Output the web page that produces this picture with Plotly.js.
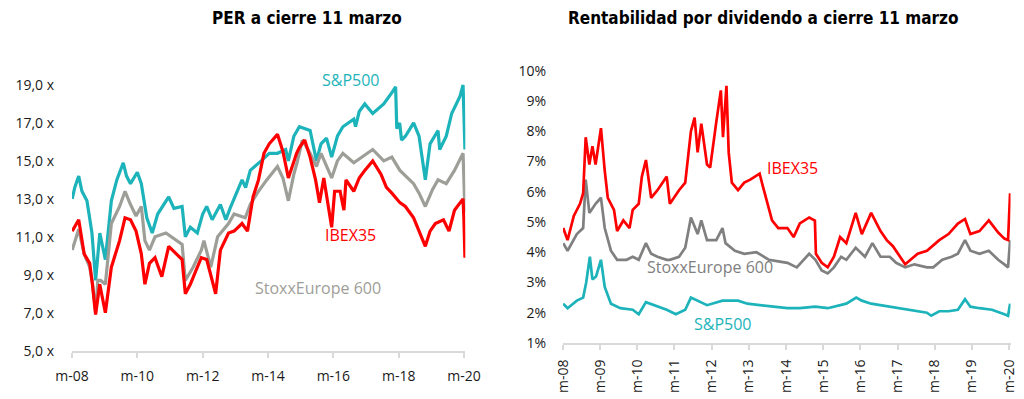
<!DOCTYPE html>
<html><head><meta charset="utf-8">
<script src="https://cdn.plot.ly/plotly-3.0.1.min.js"></script>
<style>body{margin:0;background:#fff}#chart{width:1024px;height:399px}</style>
</head><body><div id="chart"></div>
<script>
// ---------- PER (left) ----------
const perSPDates = ['2008-03-03','2008-04-01','2008-05-15','2008-06-20','2008-08-15','2008-10-10','2008-11-20','2009-01-06','2009-03-09','2009-05-15','2009-07-15','2009-09-25','2009-11-01','2009-12-15','2010-03-01','2010-04-15','2010-06-15','2010-08-15','2010-10-15','2011-02-15','2011-04-15','2011-07-15','2011-08-20','2011-10-15','2012-01-01','2012-03-01','2012-04-15','2012-06-15','2012-09-15','2012-11-15','2013-01-01','2013-05-15','2013-06-24','2013-08-15','2013-12-15','2014-03-15','2014-06-15','2014-09-15','2014-10-15','2014-12-15','2015-02-15','2015-06-15','2015-08-25','2015-10-15','2015-12-15','2016-02-11','2016-04-15','2016-06-15','2016-10-15','2016-11-04','2016-12-15','2017-02-15','2017-05-15','2017-09-15','2017-12-15','2018-01-26','2018-02-08','2018-03-12','2018-04-02','2018-05-15','2018-08-15','2018-10-15','2018-12-24','2019-02-15','2019-05-15','2019-06-03','2019-08-15','2019-10-15','2020-01-15','2020-02-19','2020-03-11'];
const perSPValues = [13.0,13.6,14.2,13.4,12.9,11.2,8.7,11.2,9.8,12.9,14.0,14.9,14.2,13.8,14.4,13.8,12.0,11.2,12.2,13.1,12.5,12.6,11.0,11.5,11.2,12.2,12.6,11.9,12.7,11.9,12.5,14.0,13.6,14.5,15.0,15.4,15.4,15.6,15.0,16.3,16.8,16.6,15.0,15.9,16.2,15.2,16.3,16.8,17.2,16.8,17.6,18.0,17.5,18.0,18.6,18.9,16.7,17.0,16.1,16.3,17.0,16.3,14.0,15.9,16.6,15.6,16.3,17.5,18.4,19.0,15.6];

const perEUDates = ['2008-03-03','2008-05-15','2008-07-15','2008-09-15','2008-10-15','2008-11-20','2008-12-15','2009-01-15','2009-03-09','2009-05-15','2009-08-15','2009-10-15','2009-12-15','2010-02-15','2010-04-15','2010-05-25','2010-07-15','2010-09-15','2011-01-15','2011-05-15','2011-07-15','2011-08-20','2011-11-15','2012-02-15','2012-03-15','2012-05-30','2012-08-15','2012-12-15','2013-02-15','2013-06-20','2013-08-15','2013-11-15','2014-02-15','2014-06-15','2014-08-15','2014-10-15','2014-12-15','2015-01-20','2015-03-20','2015-06-15','2015-08-25','2015-10-15','2015-12-15','2016-02-11','2016-04-15','2016-06-15','2016-10-15','2017-01-15','2017-05-15','2017-09-15','2017-12-15','2018-03-15','2018-05-15','2018-08-15','2018-10-15','2018-12-24','2019-03-15','2019-05-15','2019-08-15','2019-11-15','2020-02-19','2020-03-11'];
const perEUValues = [10.3,11.4,10.1,9.4,8.6,7.0,8.7,8.7,8.5,11.7,12.6,13.4,12.7,12.1,12.6,10.8,10.3,11.0,11.2,10.8,10.6,8.7,9.4,10.3,10.8,9.4,11.0,11.7,12.2,12.0,12.7,13.4,14.0,14.7,14.1,12.9,14.3,14.9,16.1,15.4,14.7,15.4,14.7,14.1,15.0,15.4,14.9,15.2,15.6,15.0,15.2,14.5,14.2,13.8,13.3,12.6,13.5,14.0,13.8,14.5,15.4,12.3];

const perIBDates = ['2008-03-03','2008-05-15','2008-07-15','2008-09-15','2008-10-15','2008-11-20','2009-01-05','2009-03-09','2009-05-15','2009-08-15','2009-10-15','2009-12-15','2010-02-15','2010-04-15','2010-05-25','2010-07-15','2010-09-15','2010-11-30','2011-02-15','2011-05-15','2011-07-15','2011-08-20','2011-10-15','2011-12-15','2012-02-15','2012-04-15','2012-07-24','2012-09-15','2012-12-15','2013-02-15','2013-05-15','2013-07-15','2013-09-15','2013-11-15','2014-01-15','2014-03-15','2014-06-15','2014-08-15','2014-10-15','2015-01-15','2015-02-15','2015-04-15','2015-06-15','2015-08-15','2015-09-28','2015-11-15','2016-01-15','2016-02-11','2016-03-15','2016-05-15','2016-06-27','2016-07-20','2016-10-15','2016-12-15','2017-02-15','2017-05-15','2017-08-15','2017-10-15','2017-12-15','2018-03-15','2018-05-15','2018-08-15','2018-10-15','2018-12-24','2019-02-15','2019-04-15','2019-07-15','2019-09-15','2019-11-15','2020-01-15','2020-02-19','2020-02-28','2020-03-11'];
const perIBValues = [11.3,11.9,10.1,9.6,8.5,6.9,8.5,7.0,9.4,10.8,12.0,11.9,11.3,10.1,8.5,9.6,9.9,8.9,10.5,10.1,9.8,8.0,8.5,9.2,9.9,9.8,8.0,10.3,11.2,11.3,11.7,11.3,13.1,14.0,15.4,15.9,16.4,15.5,14.1,15.4,15.7,16.1,15.2,14.0,12.8,14.1,12.4,11.5,13.4,13.4,12.4,14.0,13.4,14.1,14.5,15.0,14.3,13.6,13.3,12.8,12.6,12.0,11.3,10.5,11.3,11.7,11.9,11.3,12.4,12.8,13.0,12.0,9.9];

const perTickVals = [5,7,9,11,13,15,17,19];
const perTickText = ['5,0 x','7,0 x','9,0 x','11,0 x','13,0 x','15,0 x','17,0 x','19,0 x'];
const perXTickVals = ['2008-03-01','2010-03-01','2012-03-01','2014-03-01','2016-03-01','2018-03-01','2020-03-01'];
const perXTickText = ['m-08','m-10','m-12','m-14','m-16','m-18','m-20'];

// ---------- Dividend yield (right) ----------
const dyIBDates = ['2008-03-03','2008-04-15','2008-06-15','2008-08-15','2008-09-15','2008-10-10','2008-11-15','2008-12-15','2009-01-15','2009-02-15','2009-03-09','2009-04-15','2009-05-15','2009-07-15','2009-08-15','2009-10-15','2009-12-15','2010-01-15','2010-03-15','2010-04-15','2010-05-25','2010-07-15','2010-09-15','2010-12-15','2011-01-15','2011-04-15','2011-06-15','2011-08-10','2011-09-15','2011-10-15','2011-11-20','2012-01-15','2012-02-15','2012-04-15','2012-05-30','2012-06-20','2012-07-24','2012-08-15','2012-09-15','2012-11-15','2013-01-15','2013-03-15','2013-06-15','2013-07-15','2013-09-01','2013-10-15','2013-12-15','2014-03-15','2014-05-15','2014-07-15','2014-10-15','2014-12-10','2014-12-20','2015-02-15','2015-04-15','2015-06-15','2015-08-15','2015-10-15','2016-01-15','2016-03-15','2016-06-15','2016-09-15','2016-11-15','2017-01-15','2017-04-15','2017-05-15','2017-09-15','2017-12-15','2018-04-15','2018-07-15','2018-10-15','2018-12-24','2019-02-15','2019-05-15','2019-08-15','2019-11-15','2020-01-15','2020-02-20','2020-03-11'];
const dyIBValues = [4.8,4.4,5.2,5.6,5.95,7.8,6.9,7.5,6.9,7.6,8.1,6.7,5.8,5.4,4.7,5.05,4.8,5.4,5.6,6.5,7.05,5.8,6.05,6.5,5.6,6.05,6.3,8.0,8.45,7.3,8.25,6.9,6.8,8.3,9.35,7.8,9.5,7.3,6.3,6.05,6.3,6.4,6.6,6.2,5.6,5.05,4.8,4.8,4.5,4.95,5.15,5.05,3.95,3.65,3.5,3.85,4.5,4.3,5.3,4.6,5.3,4.7,4.4,4.2,3.75,3.6,3.95,4.05,4.4,4.6,4.95,5.1,4.6,4.7,5.05,4.65,4.45,4.4,5.95];

const dyEUDates = ['2008-03-03','2008-04-15','2008-07-15','2008-09-15','2008-10-10','2008-11-15','2009-01-15','2009-03-09','2009-04-15','2009-06-15','2009-08-15','2009-11-15','2010-01-15','2010-03-15','2010-05-25','2010-07-15','2010-09-15','2010-12-15','2011-01-15','2011-04-15','2011-06-15','2011-08-10','2011-10-15','2011-11-20','2012-01-15','2012-04-15','2012-06-15','2012-07-15','2012-10-15','2013-01-15','2013-05-15','2013-09-15','2013-12-15','2014-03-15','2014-06-15','2014-10-15','2014-12-15','2015-02-15','2015-04-15','2015-06-15','2015-08-25','2015-10-15','2016-01-15','2016-02-15','2016-04-15','2016-06-27','2016-09-15','2016-12-15','2017-02-15','2017-05-15','2017-08-15','2017-12-15','2018-02-15','2018-05-15','2018-08-15','2018-10-15','2018-12-24','2019-02-15','2019-05-15','2019-08-15','2019-11-15','2020-01-15','2020-02-20','2020-03-11'];
const dyEUValues = [4.3,4.05,4.6,4.8,6.4,5.3,5.6,5.8,4.8,4.05,3.75,3.75,3.85,3.75,4.3,3.95,3.85,3.75,3.75,3.85,4.15,5.15,4.6,5.05,4.4,4.4,4.8,4.3,4.05,3.95,4.0,3.75,3.7,3.65,3.5,3.95,3.75,3.4,3.3,3.5,3.85,3.75,4.15,4.05,3.85,4.3,3.85,3.85,3.65,3.5,3.6,3.5,3.5,3.75,3.85,3.95,4.4,4.05,3.95,4.05,3.75,3.6,3.5,4.4];

const dySPDates = ['2008-03-03','2008-04-15','2008-07-15','2008-09-15','2008-10-15','2008-11-20','2008-12-15','2009-01-20','2009-03-09','2009-04-15','2009-06-15','2009-09-15','2010-01-15','2010-03-15','2010-05-25','2010-08-15','2010-12-15','2011-03-15','2011-06-15','2011-08-10','2011-10-15','2012-01-15','2012-06-15','2012-11-15','2013-02-15','2013-06-15','2013-11-15','2014-03-15','2014-07-15','2014-12-15','2015-04-15','2015-08-25','2015-10-15','2016-01-20','2016-03-15','2016-06-15','2016-09-15','2016-12-15','2017-03-15','2017-07-15','2017-12-15','2018-01-26','2018-04-15','2018-07-15','2018-10-15','2018-12-24','2019-02-15','2019-05-15','2019-09-15','2020-01-15','2020-02-20','2020-03-11'];
const dySPValues = [2.3,2.15,2.4,2.5,3.0,3.85,3.1,3.2,3.75,2.85,2.3,2.15,2.1,1.95,2.35,2.25,2.1,1.95,2.1,2.5,2.4,2.25,2.4,2.4,2.3,2.25,2.2,2.15,2.15,2.2,2.15,2.25,2.3,2.5,2.4,2.3,2.25,2.2,2.15,2.1,2.0,1.9,2.05,2.05,2.1,2.45,2.2,2.15,2.1,1.95,1.9,2.3];

const dyTickVals = [1,2,3,4,5,6,7,8,9,10];
const dyTickText = ['1%','2%','3%','4%','5%','6%','7%','8%','9%','10%'];
const dyXTickVals = ['2008-03-01','2009-03-01','2010-03-01','2011-03-01','2012-03-01','2013-03-01','2014-03-01','2015-03-01','2016-03-01','2017-03-01','2018-03-01','2019-03-01','2020-03-01'];
const dyXTickText = ['m-08','m-09','m-10','m-11','m-12','m-13','m-14','m-15','m-16','m-17','m-18','m-19','m-20'];

const seriesNames = ['S&P500','StoxxEurope 600','IBEX35'];
const titles = ['PER a cierre 11 marzo','Rentabilidad por dividendo a cierre 11 marzo'];

// ---------- styling ----------
const RED = '#FF0000', TEAL = '#1DB3BA', GREY_L = '#9E9E99', GREY_R = '#808080';
const W = 1024, H = 399;
const px = v => v / W, py = v => 1 - v / H;
const tickFont = {family: 'Open Sans, sans-serif', size: 14, color: '#1a1a1a'};
const lblFont = (c) => ({family: 'Open Sans, sans-serif', size: 16, color: c});

function line(x, y, color, xa, ya, name, w) {
  return {x: x, y: y, type: 'scatter', mode: 'lines', name: name, xaxis: xa, yaxis: ya,
          line: {color: color, width: w}, hoverinfo: 'skip'};
}

const data = [
  line(perSPDates, perSPValues, TEAL, 'x', 'y', seriesNames[0], 3.2),
  line(perEUDates, perEUValues, GREY_L, 'x', 'y', seriesNames[1], 3.2),
  line(perIBDates, perIBValues, RED, 'x', 'y', seriesNames[2], 3.2),
  line(dySPDates, dySPValues, TEAL, 'x2', 'y2', seriesNames[0], 2.7),
  line(dyEUDates, dyEUValues, GREY_R, 'x2', 'y2', seriesNames[1], 2.7),
  line(dyIBDates, dyIBValues, RED, 'x2', 'y2', seriesNames[2], 2.7)
];

const axisLine = '#D9D9D9';
const layout = {
  width: W, height: H,
  margin: {l: 0, r: 0, t: 0, b: 0},
  paper_bgcolor: '#fff', plot_bgcolor: '#fff',
  showlegend: false,
  xaxis: {
    domain: [px(72), px(465.3)], type: 'date', range: ['2008-03-01', '2020-03-15'],
    tickvals: perXTickVals, ticktext: perXTickText, tickfont: tickFont,
    showgrid: false, zeroline: false, showline: true, linecolor: axisLine, linewidth: 2,
    ticks: 'outside', ticklen: 5, tickcolor: axisLine, tickwidth: 2, ticklabelstandoff: 6, anchor: 'y'
  },
  yaxis: {
    domain: [1 - 350.7 / H, 1 - 66 / H], range: [5, 20],
    tickvals: perTickVals, ticktext: perTickText, tickfont: tickFont,
    showgrid: false, zeroline: false, showline: false, ticks: '', ticklabelstandoff: 17, anchor: 'x'
  },
  xaxis2: {
    domain: [px(563), px(1010.5)], type: 'date', range: ['2008-03-01', '2020-03-15'],
    tickvals: dyXTickVals, ticktext: dyXTickText, tickfont: tickFont, tickangle: -90,
    showgrid: false, zeroline: false, showline: true, linecolor: axisLine, linewidth: 2,
    ticks: 'outside', ticklen: 5, tickcolor: axisLine, tickwidth: 2, ticklabelstandoff: 4, anchor: 'y2'
  },
  yaxis2: {
    domain: [1 - 343 / H, 1 - 70.7 / H], range: [1, 10],
    tickvals: dyTickVals, ticktext: dyTickText, tickfont: tickFont,
    showgrid: false, zeroline: false, showline: false, ticks: '', ticklabelstandoff: 16, anchor: 'x2'
  },
  annotations: [
    {text: '<b>' + titles[0] + '</b>', x: px(307), y: py(18), xref: 'paper', yref: 'paper', xanchor: 'center', yanchor: 'middle', showarrow: false,
     font: {family: 'DejaVu Sans Condensed, DejaVu Sans, sans-serif', size: 17, color: '#000'}},
    {text: '<b>' + titles[1] + '</b>', x: px(763), y: py(18), xref: 'paper', yref: 'paper', xanchor: 'center', yanchor: 'middle', showarrow: false,
     font: {family: 'DejaVu Sans Condensed, DejaVu Sans, sans-serif', size: 17, color: '#000'}},
    {text: seriesNames[0], x: px(351), y: py(80), xref: 'paper', yref: 'paper', xanchor: 'center', yanchor: 'middle', showarrow: false, font: lblFont(TEAL)},
    {text: seriesNames[2], x: px(350), y: py(235), xref: 'paper', yref: 'paper', xanchor: 'center', yanchor: 'middle', showarrow: false, font: lblFont(RED)},
    {text: seriesNames[1], x: px(318), y: py(288), xref: 'paper', yref: 'paper', xanchor: 'center', yanchor: 'middle', showarrow: false, font: lblFont(GREY_L)},
    {text: seriesNames[2], x: px(792), y: py(168), xref: 'paper', yref: 'paper', xanchor: 'center', yanchor: 'middle', showarrow: false, font: lblFont(RED)},
    {text: seriesNames[1], x: px(710), y: py(267), xref: 'paper', yref: 'paper', xanchor: 'center', yanchor: 'middle', showarrow: false, font: lblFont(GREY_R)},
    {text: seriesNames[0], x: px(723), y: py(324), xref: 'paper', yref: 'paper', xanchor: 'center', yanchor: 'middle', showarrow: false, font: lblFont(TEAL)}
  ]
};

Plotly.newPlot('chart', data, layout, {staticPlot: true, displayModeBar: false});
</script>
</body></html>
